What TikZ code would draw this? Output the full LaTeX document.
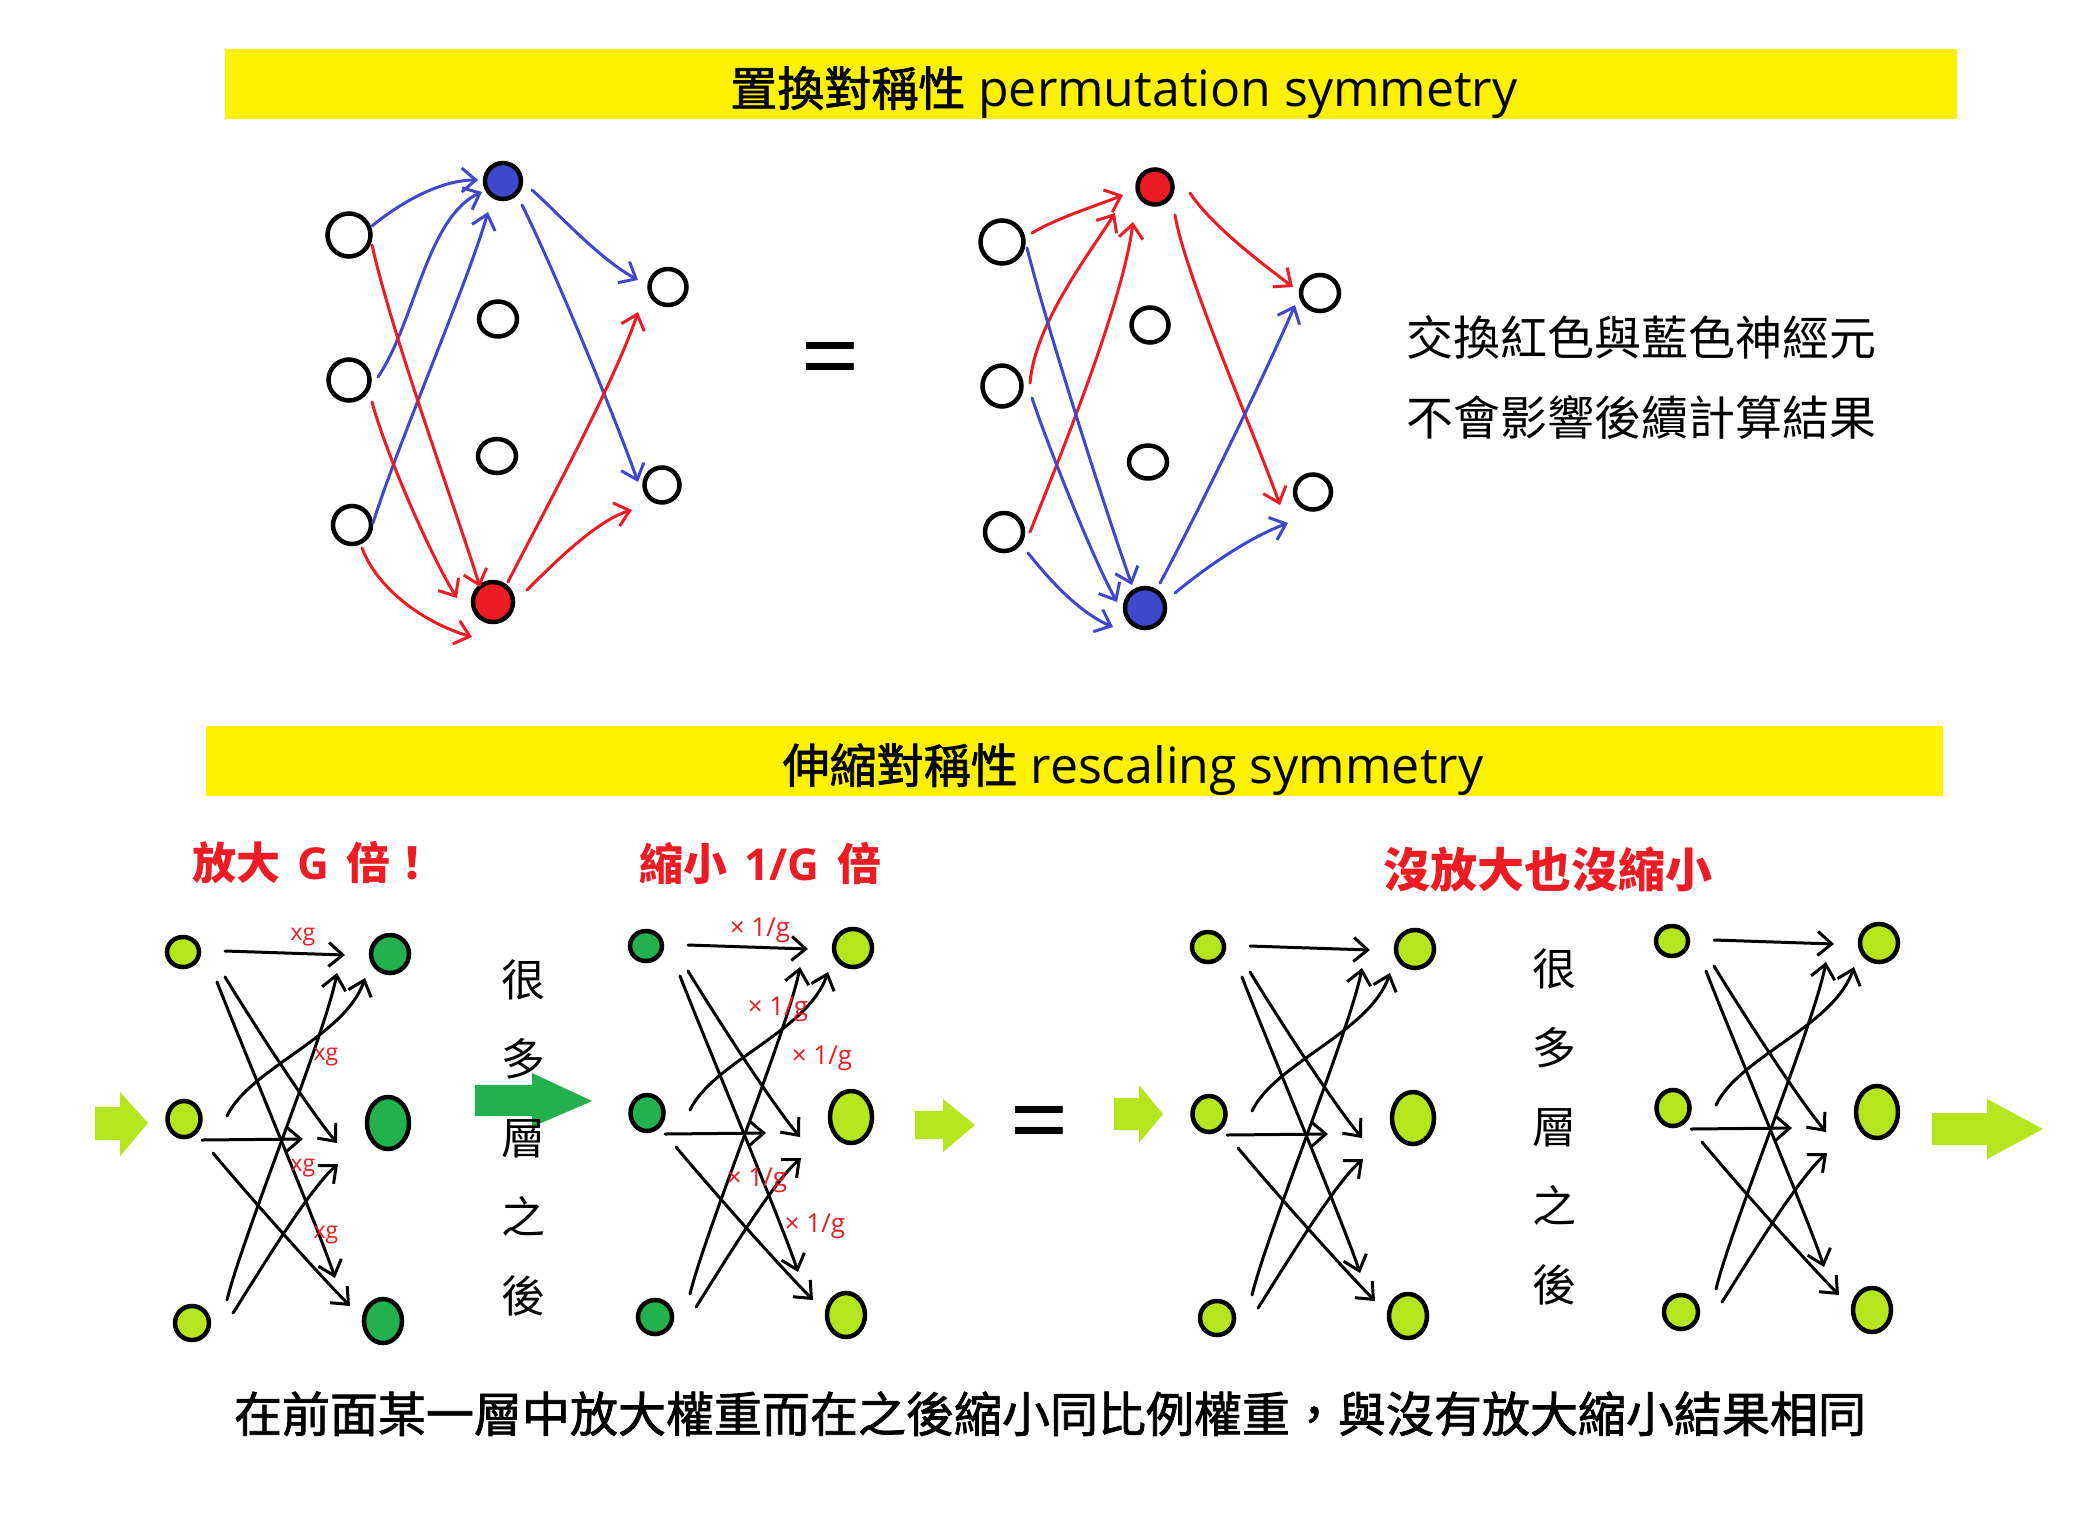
\documentclass[tikz,border=0pt]{standalone}
\usepackage{fontspec}
\setmainfont{Open Sans}
\newfontfamily\cjk{Noto Sans CJK TC}
\newfontfamily\cjkb[FakeBold=1.6]{Noto Sans CJK TC}
\usetikzlibrary{arrows.meta,calc,shapes.geometric}
\definecolor{pred}{HTML}{ED1C24}
\definecolor{pblue}{HTML}{3F48CC}
\definecolor{dgreen}{HTML}{22B14C}
\definecolor{lgreen}{HTML}{B5E61D}
\definecolor{pyellow}{HTML}{FFF200}
\tikzset{
  nd/.style={ellipse, draw=black, line width=4.5pt, inner sep=0pt, outer sep=0pt},
  wn/.style={nd, fill=white},
  hand/.style={line width=3pt, line cap=round, line join=round, -{Straight Barb[length=14pt,width=24pt]}},
  bluearr/.style={hand, draw=pblue},
  redarr/.style={hand, draw=pred},
  blk/.style={hand, draw=black},
  lab/.style={text=pred, inner sep=0pt},
}
\newcommand\bnet[5]{%
\begin{scope}[shift={(#2,#3)}, name prefix=#1-]
  \node[nd, fill=#4, minimum width=32, minimum height=30] (l1) at (183,952) {};
  \node[nd, fill=#4, minimum width=33, minimum height=36] (l2) at (184,1119) {};
  \node[nd, fill=#4, minimum width=34, minimum height=34] (l3) at (192,1323) {};
  \node[nd, fill=#5, minimum width=38, minimum height=38] (r1) at (390,954) {};
  \node[nd, fill=#5, minimum width=42, minimum height=52] (r2) at (388,1123) {};
  \node[nd, fill=#5, minimum width=38, minimum height=44] (r3) at (383,1321) {};
  \draw[blk] ($(l1)+(42,-1)$) -- ($(r1)+(-45,1)$);
  \draw[blk] ($(l2)+(43,-3)$) .. controls +(23,-48) and +(-20,59) .. ($(r1)+(-25,24)$);
  \draw[blk] ($(l3)+(35,-23)$) .. controls +(15,-62) and +(-12,62) .. ($(r1)+(-53,19)$);
  \draw[blk] ($(l1)+(42,25)$) .. controls +(25,41) and +(-30,-36) .. ($(r2)+(-51,20)$);
  \draw[blk] ($(l2)+(18,21)$) -- ($(r2)+(-85,16)$);
  \draw[blk] ($(l3)+(41,-10)$) .. controls +(20,-31) and +(-30,26) .. ($(r2)+(-50,41)$);
  \draw[blk] ($(l1)+(34,30)$) .. controls +(20,52) and +(-15,-46) .. ($(r3)+(-48,-43)$);
  \draw[blk] ($(l2)+(29,34)$) .. controls +(30,36) and +(-40,-41) .. ($(r3)+(-33,-15)$);
\end{scope}}
\begin{document}
\begin{tikzpicture}[x=1pt,y=-1pt]
\useasboundingbox (0,0) rectangle (2080,1524);
\fill[white] (0,0) rectangle (2080,1524);

% ---------- banners ----------
\fill[pyellow] (225,49) rectangle (1957,119);
\node[anchor=base, inner sep=0pt, font=\fontsize{50}{56}\selectfont] (t1) at (1124,106)
  {{\cjkb\fontsize{47}{56}\selectfont 置換對稱性} permutation symmetry};
\fill[pyellow] (206,726) rectangle (1943,796);
\node[anchor=base, inner sep=0pt, font=\fontsize{50}{56}\selectfont] (t2) at (1133,783)
  {{\cjkb\fontsize{47}{56}\selectfont 伸縮對稱性} rescaling symmetry};

% ---------- top left network ----------
\node[wn, minimum width=43, minimum height=43] (i1) at (349,235) {};
\node[wn, minimum width=41, minimum height=41] (i2) at (349,380) {};
\node[wn, minimum width=38, minimum height=38] (i3) at (352,525) {};
\node[nd, fill=pblue, minimum width=36, minimum height=36] (hb) at (503,181) {};
\node[wn, minimum width=38, minimum height=35] (h2) at (498,319) {};
\node[wn, minimum width=38, minimum height=34] (h3) at (497,456) {};
\node[nd, fill=pred, minimum width=40, minimum height=40] (hr) at (493,602) {};
\node[wn, minimum width=37, minimum height=36] (o1) at (668,287) {};
\node[wn, minimum width=35, minimum height=35] (o2) at (662,485) {};

\draw[bluearr] ($(i1)+(23,-9)$) .. controls +(28,-23) and +(-38,0) .. ($(hb)+(-25,-1)$);
\draw[bluearr] ($(i2)+(29,-3)$) .. controls +(37,-55) and +(-55,25) .. ($(hb)+(-21,11)$);
\draw[bluearr] ($(i3)+(21,-2)$) .. controls +(25,-80) and +(-20,70) .. ($(hb)+(-15,31)$);
\draw[bluearr] ($(hb)+(29,9)$) .. controls +(25,22) and +(-40,-22) .. ($(o1)+(-30,-7)$);
\draw[bluearr] ($(hb)+(19,24)$) .. controls +(30,60) and +(-25,-70) .. ($(o2)+(-24,-3)$);
\draw[redarr] ($(i1)+(23,10)$) .. controls +(20,90) and +(-25,-80) .. ($(hr)+(-13,-15)$);
\draw[redarr] ($(i2)+(23,22)$) .. controls +(15,55) and +(-25,-40) .. ($(hr)+(-36,-4)$);
\draw[redarr] ($(i3)+(10,23)$) .. controls +(15,40) and +(-50,-15) .. ($(hr)+(-21,35)$);
\draw[redarr] ($(hr)+(15,-20)$) .. controls +(25,-50) and +(-25,75) .. ($(o1)+(-30,25)$);
\draw[redarr] ($(hr)+(34,-12)$) .. controls +(25,-25) and +(-35,10) .. ($(o2)+(-30,25)$);

\node[anchor=base, inner sep=0pt, font=\fontsize{105}{105}\selectfont] (eq1) at (831,393) {=};

% ---------- top right network ----------
\node[wn, minimum width=43, minimum height=43] (j1) at (1002,242) {};
\node[wn, minimum width=39, minimum height=41] (j2) at (1002,386) {};
\node[wn, minimum width=38, minimum height=38] (j3) at (1004,532) {};
\node[nd, fill=pred, minimum width=35, minimum height=35] (kr) at (1155,187) {};
\node[wn, minimum width=37, minimum height=35] (k2) at (1150,325) {};
\node[wn, minimum width=38, minimum height=33] (k3) at (1148,462) {};
\node[nd, fill=pblue, minimum width=40, minimum height=40] (kb) at (1145,608) {};
\node[wn, minimum width=38, minimum height=36] (p1) at (1320,293) {};
\node[wn, minimum width=36, minimum height=35] (p2) at (1313,492) {};

\draw[redarr] ($(j1)+(30,-9)$) .. controls +(25,-15) and +(-30,12) .. ($(kr)+(-32,8)$);
\draw[redarr] ($(j2)+(28,-3)$) .. controls +(5,-60) and +(-25,40) .. ($(kr)+(-40,26)$);
\draw[redarr] ($(j3)+(26,0)$) .. controls +(30,-75) and +(-10,80) .. ($(kr)+(-22,35)$);
\draw[redarr] ($(kr)+(35,6)$) .. controls +(20,30) and +(-40,-30) .. ($(p1)+(-27,-6)$);
\draw[redarr] ($(kr)+(20,28)$) .. controls +(10,60) and +(-25,-70) .. ($(p2)+(-33,13)$);
\draw[bluearr] ($(j1)+(25,6)$) .. controls +(20,80) and +(-25,-70) .. ($(kb)+(-13,-23)$);
\draw[bluearr] ($(j2)+(30,12)$) .. controls +(15,45) and +(-25,-45) .. ($(kb)+(-28,-6)$);
\draw[bluearr] ($(j3)+(24,21)$) .. controls +(20,25) and +(-35,-15) .. ($(kb)+(-32,19)$);
\draw[bluearr] ($(kb)+(15,-25)$) .. controls +(30,-55) and +(-30,70) .. ($(p1)+(-25,12)$);
\draw[bluearr] ($(kb)+(30,-15)$) .. controls +(30,-25) and +(-40,15) .. ($(p2)+(-25,31)$);

\node[anchor=base west, inner sep=0pt, font=\cjk\fontsize{47}{80}\selectfont] (note1) at (1406,355) {交換紅色與藍色神經元};
\node[anchor=base west, inner sep=0pt, font=\cjk\fontsize{47}{80}\selectfont] (note2) at (1406,435) {不會影響後續計算結果};

% ---------- block arrows ----------
\fill[lgreen] (95,1107) -- (120,1107) -- (120,1092) -- (148,1123) -- (120,1156) -- (120,1140) -- (95,1140) -- cycle;
\fill[dgreen] (475,1085) -- (532,1085) -- (532,1073) -- (592,1101) -- (532,1127) -- (532,1116) -- (475,1116) -- cycle;
\fill[lgreen] (915,1111) -- (943,1111) -- (943,1099) -- (975,1125) -- (943,1152) -- (943,1139) -- (915,1139) -- cycle;
\fill[lgreen] (1114,1098) -- (1139,1098) -- (1139,1085) -- (1163,1114) -- (1139,1143) -- (1139,1130) -- (1114,1130) -- cycle;
\fill[lgreen] (1932,1113) -- (1987,1113) -- (1987,1099) -- (2043,1129) -- (1987,1159) -- (1987,1145) -- (1932,1145) -- cycle;

% ---------- bottom networks ----------
\bnet{A}{0}{0}{lgreen}{dgreen}
\bnet{B}{463}{-6}{dgreen}{lgreen}
\bnet{C}{1025}{-5}{lgreen}{lgreen}
\bnet{D}{1489}{-11}{lgreen}{lgreen}

\node[lab, font=\fontsize{23}{23}\selectfont] (xa1) at (303,937) {xg};
\node[lab, font=\fontsize{23}{23}\selectfont] (xa2) at (326,1057) {xg};
\node[lab, font=\fontsize{23}{23}\selectfont] (xa3) at (303,1168) {xg};
\node[lab, font=\fontsize{23}{23}\selectfont] (xa4) at (326,1235) {xg};
\node[lab, font=\fontsize{26}{26}\selectfont] (xb1) at (760,930) {× 1/g};
\node[lab, font=\fontsize{26}{26}\selectfont] (xb2) at (778,1009) {× 1/g};
\node[lab, font=\fontsize{26}{26}\selectfont] (xb3) at (822,1058) {× 1/g};
\node[lab, font=\fontsize{26}{26}\selectfont] (xb4) at (757,1180) {× 1/g};
\node[lab, font=\fontsize{26}{26}\selectfont] (xb5) at (815,1226) {× 1/g};

\node[lab, anchor=base west, font=\bfseries\fontsize{44}{50}\selectfont] (lab1) at (192,879) {{\cjk 放大}\hspace{6pt} G \hspace{6pt}{\cjk 倍！}};
\node[lab, anchor=base west, font=\bfseries\fontsize{44}{50}\selectfont] (lab2) at (639,880) {{\cjk 縮小}\hspace{6pt} 1/G \hspace{6pt}{\cjk 倍}};
\node[lab, anchor=base west, font=\cjk\bfseries\fontsize{47}{50}\selectfont] (lab3) at (1383,887) {沒放大也沒縮小};

\node[align=center, inner sep=0pt, font=\cjk\fontsize{44}{79}\selectfont] (v1) at (523,1138) {很\\多\\層\\之\\後};
\node[align=center, inner sep=0pt, font=\cjk\fontsize{44}{79}\selectfont] (v2) at (1554,1127) {很\\多\\層\\之\\後};

\node[anchor=base, inner sep=0pt, font=\fontsize{105}{105}\selectfont] (eq2) at (1040,1157) {=};

\node[anchor=base, inner sep=0pt, font=\cjkb\fontsize{48}{60}\selectfont] (cap) at (1050,1432)
  {在前面某一層中放大權重而在之後縮小同比例權重，與沒有放大縮小結果相同};
\end{tikzpicture}
\end{document}
